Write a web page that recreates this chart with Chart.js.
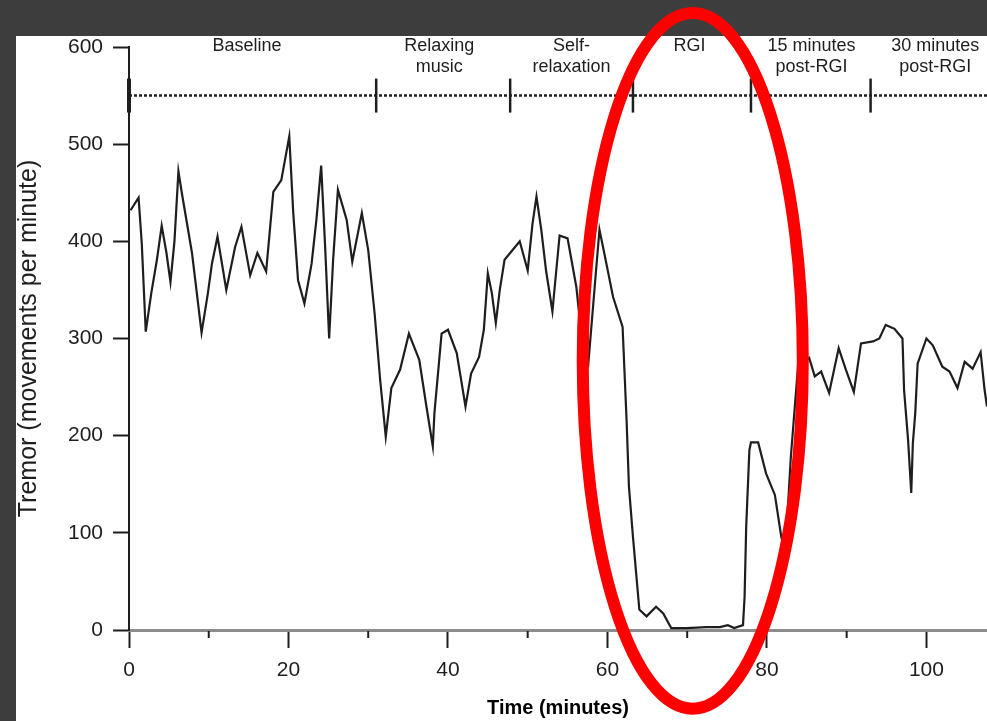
<!DOCTYPE html>
<html>
<head>
<meta charset="utf-8">
<script src="https://cdn.jsdelivr.net/npm/chart.js@4.4.1/dist/chart.umd.min.js"></script>
<style>
  html, body { margin: 0; padding: 0; background: #3d3d3d; overflow: hidden; }
  #wrap { position: relative; width: 987px; height: 721px; }
</style>
</head>
<body>
<div id="wrap"><canvas id="tremorChart"></canvas></div>
<script>
// --- data ---
const minutes = [
  0.2, 1.2, 1.6, 2.1, 2.8, 3.5, 4.1, 4.7, 5.2, 5.7, 6.2, 6.6, 7.9, 9.1, 9.9, 10.4,
  11.1, 12.2, 13.3, 14.1, 15.2, 16.1, 17.2, 18.1, 19.1, 20.1, 20.6, 21.2, 22.0, 22.9,
  23.5, 24.1, 24.6, 25.1, 25.6, 26.2, 27.3, 28.0, 29.2, 30.0, 30.8, 31.5, 32.2, 32.9,
  34.0, 35.1, 36.4, 37.3, 38.1, 38.3, 39.2, 40.0, 41.1, 42.2, 42.9, 43.9, 44.5, 45.0,
  45.5, 46.0, 46.5, 47.1, 49.0, 50.0, 50.6, 51.1, 51.7, 52.3, 53.1, 54.0, 55.0, 56.1,
  56.9, 57.6, 58.4, 59.0, 59.6, 60.7, 61.9, 62.4, 62.7, 63.2, 64.0, 64.9, 66.1, 67.0,
  68.0, 69.9, 72.4, 74.1, 75.1, 75.9, 77.0, 77.2, 77.4, 77.8, 78.0, 78.9, 79.9, 81.0,
  81.8, 82.3, 83.0, 83.5, 83.9, 85.3, 86.0, 86.8, 87.8, 89.0, 89.9, 90.9, 91.8, 93.3,
  94.1, 94.9, 96.0, 97.0, 97.2, 97.7, 98.1, 98.3, 98.6, 98.9, 100.0, 100.8, 102.0, 102.9,
  103.9, 104.8, 105.8, 106.8, 107.3, 107.6
]
const tremor = [
  432, 445, 398, 307, 347, 381, 416, 388, 358, 400, 472, 451, 388, 306, 347, 377,
  405, 350, 394, 415, 365, 388, 369, 451, 463, 508, 429, 360, 336, 377,
  422, 478, 394, 300, 381, 453, 422, 379, 429, 391, 326, 257, 199, 249,
  268, 305, 278, 230, 189, 223, 305, 309, 285, 230, 264, 281, 309, 367,
  347, 316, 350, 381, 400, 370, 418, 446, 412, 370, 328, 406, 403, 353,
  290, 274, 353, 412, 388, 343, 312, 216, 147, 96, 21, 14, 24, 17,
  2, 2, 3, 3, 5, 2, 5, 34, 106, 185, 193, 193, 161, 139,
  96, 80, 178, 230, 271, 280, 261, 266, 244, 290, 268, 245, 295, 297,
  300, 314, 310, 300, 247, 196, 141, 192, 223, 274, 300, 293, 271, 266,
  249, 276, 269, 286, 247, 230
]

const phaseStarts = [0, 31, 47.8, 63.2, 78, 93]
const phaseLevel  = 550
const phaseNames  = [['Baseline'], ['Relaxing', 'music'], ['Self-', 'relaxation'], ['RGI'], ['15 minutes', 'post-RGI'], ['30 minutes', 'post-RGI']]
const phaseLabelX = [14.8, 38.9, 55.5, 70.3, 85.6, 101.1]

const xMax = 107.6
const yTicks = [0, 100, 200, 300, 400, 500, 600]
const xMajorTicks = [0, 20, 40, 60, 80, 100]
const xMinorTicks = [10, 30, 50, 70, 90]

// highlighted region (red ellipse), in data units
const ringCenter = { x: 70.7, y: 277 }
const ringRadius = { x: 13.8, y: 358 }

const INK = '#1e1e1e'
const FONT = '"Liberation Sans", Arial, Helvetica, sans-serif'

const decor = {
  id: 'decor',
  beforeDraw(chart) {
    const { ctx, width, height } = chart
    ctx.save()
    ctx.fillStyle = '#ffffff'
    ctx.fillRect(0, 0, width, height)
    ctx.restore()
  },
  afterDatasetsDraw(chart) {
    const { ctx, scales: { x, y } } = chart
    ctx.save()
    // minor x ticks
    ctx.strokeStyle = INK
    ctx.lineWidth = 2
    const base = y.getPixelForValue(0)
    xMinorTicks.forEach(v => {
      const px = x.getPixelForValue(v)
      ctx.beginPath()
      ctx.moveTo(px, base + 1)
      ctx.lineTo(px, base + 8)
      ctx.stroke()
    })
    // phase labels
    ctx.fillStyle = INK
    ctx.font = `18px ${FONT}`
    ctx.textAlign = 'center'
    ctx.textBaseline = 'middle'
    phaseNames.forEach((lines, i) => {
      const px = x.getPixelForValue(phaseLabelX[i])
      lines.forEach((txt, j) => ctx.fillText(txt, px, 46 + j * 21))
    })
    ctx.restore()
  },
  afterDraw(chart) {
    const { ctx, width, height, scales: { x, y } } = chart
    ctx.save()
    // dark frame
    ctx.fillStyle = '#3d3d3d'
    ctx.fillRect(0, 0, width, 36)
    ctx.fillRect(0, 0, 16, height)
    // red ring
    const cx = x.getPixelForValue(ringCenter.x)
    const cy = y.getPixelForValue(ringCenter.y)
    const rx = x.getPixelForValue(ringCenter.x + ringRadius.x) - cx
    const ry = cy - y.getPixelForValue(ringCenter.y + ringRadius.y)
    ctx.strokeStyle = '#ff0000'
    ctx.lineWidth = 12
    ctx.beginPath()
    ctx.ellipse(cx, cy, rx, ry, 0, 0, Math.PI * 2)
    ctx.stroke()
    ctx.restore()
  }
}

new Chart(document.getElementById('tremorChart'), {
  type: 'line',
  data: {
    datasets: [
      {
        label: 'Tremor',
        data: minutes.map((m, i) => ({ x: m, y: tremor[i] })),
        borderColor: INK,
        borderWidth: 2.2,
        pointRadius: 0,
        tension: 0,
      },
      {
        label: 'Phases',
        data: [{ x: 0, y: phaseLevel }, { x: xMax, y: phaseLevel }],
        borderColor: INK,
        borderWidth: 2.5,
        borderDash: [3, 2],
        pointRadius: 0,
        clip: false,
      },
      {
        label: 'Phase marks',
        type: 'scatter',
        data: phaseStarts.map(s => ({ x: s, y: phaseLevel })),
        pointStyle: 'line',
        rotation: 90,
        pointRadius: 17,
        pointBorderColor: INK,
        pointBorderWidth: phaseStarts.map((s, i) => i === 0 ? 4 : 2.5),
        clip: false,
      },
    ]
  },
  options: {
    responsive: true, maintainAspectRatio: false, animation: false,
    layout: { autoPadding: false, padding: { top: 47, left: 0, right: 0, bottom: 0 } },
    plugins: { legend: { display: false }, tooltip: { enabled: false } },
    scales: {
      x: {
        type: 'linear', min: 0, max: xMax,
        afterBuildTicks: s => { s.ticks = xMajorTicks.map(v => ({ value: v })) },
        afterFit: s => { s.height = 91 },
        border: { display: true, color: '#8c8c8c', width: 3 },
        grid: { drawOnChartArea: false, tickLength: 18, tickColor: INK, tickWidth: 2 },
        ticks: { color: INK, font: { family: FONT, size: 21 }, padding: 10, maxRotation: 0 },
        title: { display: true, text: 'Time (minutes)', color: '#000', font: { family: FONT, size: 20, weight: 'bold' }, padding: { top: 0, bottom: 1 } },
      },
      y: {
        min: 0, max: 600,
        afterBuildTicks: s => { s.ticks = yTicks.map(v => ({ value: v })) },
        afterFit: s => { s.width = 129 },
        border: { display: true, color: INK, width: 2 },
        grid: { drawOnChartArea: false, tickLength: 16, tickColor: INK, tickWidth: 2 },
        ticks: { color: INK, font: { family: FONT, size: 21 }, padding: 10 },
        title: { display: true, text: 'Tremor (movements per minute)', color: INK, font: { family: FONT, size: 25 }, padding: { top: 14, bottom: 0 } },
      },
    },
  },
  plugins: [decor],
})
</script>
</body>
</html>
